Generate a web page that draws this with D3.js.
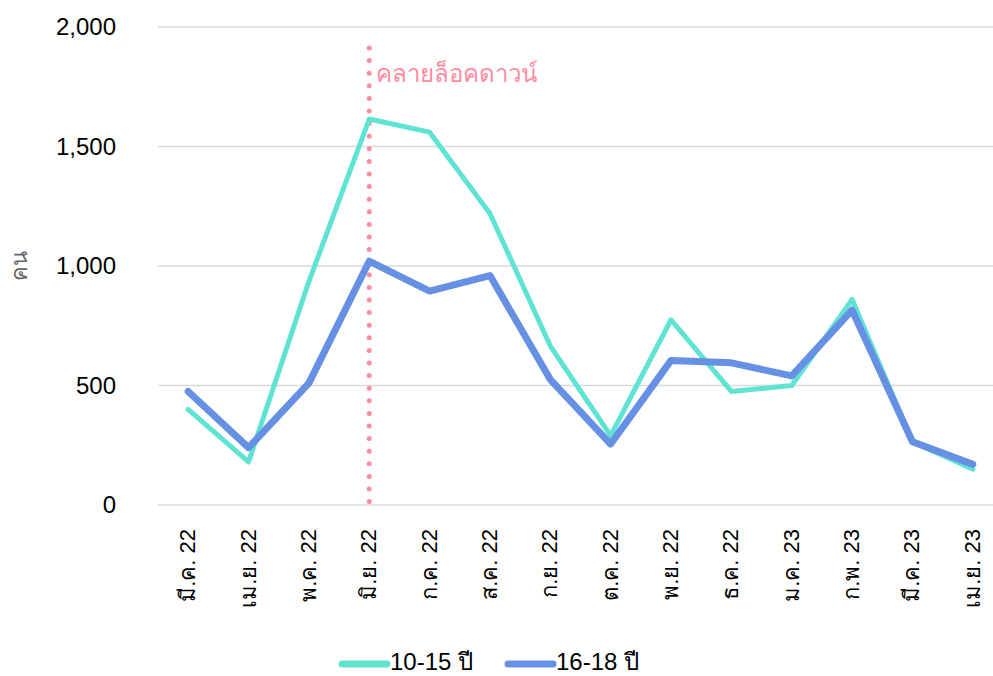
<!DOCTYPE html>
<html>
<head>
<meta charset="utf-8">
<script src="https://cdn.jsdelivr.net/npm/d3@7"></script>
<style>
  body { margin: 0; background: #fff; }
  svg { display: block; font-family: "Liberation Sans", Arial, Helvetica, sans-serif; }
</style>
</head>
<body>
<div id="chart"></div>
<script>
// data
var months = ["มี.ค. 22", "เม.ย. 22", "พ.ค. 22", "มิ.ย. 22", "ก.ค. 22", "ส.ค. 22", "ก.ย. 22",
              "ต.ค. 22", "พ.ย. 22", "ธ.ค. 22", "ม.ค. 23", "ก.พ. 23", "มี.ค. 23", "เม.ย. 23"];
var age10to15 = [400, 180, 935, 1615, 1560, 1220, 665, 290, 775, 475, 500, 860, 265, 150];
var age16to18 = [475, 240, 510, 1020, 895, 960, 525, 255, 605, 595, 540, 815, 265, 170];
var seriesNames = ["10-15 ปี", "16-18 ปี"];
var yTicks = [0, 500, 1000, 1500, 2000];
var lockdownMonth = "มิ.ย. 22";
var lockdownLabel = "คลายล็อคดาวน์";
var yLabel = "คน";

var colors = ["#5fe3d2", "#6690e4"];
var widths = [5, 7];

// chart
var w = 993, h = 676;
var svg = d3.select("#chart").append("svg")
  .attr("width", w)
  .attr("height", h);

var xScale = d3.scaleBand(months, [158, 1003]);
var yScale = d3.scaleLinear([0, 2000], [505, 27]);
var xMid = function(m) { return xScale(m) + xScale.bandwidth() / 2; };

// Gridlines + y labels
//-----------
svg.selectAll(".grid")
  .data(yTicks)
  .enter()
  .append("line")
  .attr("x1", 158)
  .attr("x2", w)
  .attr("y1", function(d) { return yScale(d); })
  .attr("y2", function(d) { return yScale(d); })
  .attr("stroke", "#d9d9d9")
  .attr("stroke-width", 1.5);

svg.selectAll(".ytick")
  .data(yTicks)
  .enter()
  .append("text")
  .text(function(d) { return d3.format(",")(d); })
  .attr("x", 116)
  .attr("y", function(d) { return yScale(d) + 8; })
  .attr("text-anchor", "end")
  .attr("font-size", "24px")
  .attr("fill", "#000");

svg.append("text")
  .text(yLabel)
  .attr("transform", "translate(27," + yScale(1000) + ") rotate(-90)")
  .attr("text-anchor", "middle")
  .attr("font-size", "22px")
  .attr("fill", "#666");

// X labels
//-----------
svg.selectAll(".xtick")
  .data(months)
  .enter()
  .append("text")
  .text(function(d) { return d; })
  .attr("transform", function(d) { return "translate(" + (xMid(d) + 7) + ",529) rotate(-90)"; })
  .attr("text-anchor", "end")
  .attr("font-size", "22px")
  .attr("fill", "#000");

// Lockdown marker
//-----------
var lx = xMid(lockdownMonth);
svg.append("line")
  .attr("x1", lx).attr("x2", lx)
  .attr("y1", 48).attr("y2", 502)
  .attr("stroke", "#ff8ca0")
  .attr("stroke-width", 5)
  .attr("stroke-linecap", "round")
  .attr("stroke-dasharray", "0 12.6");

svg.append("text")
  .text(lockdownLabel)
  .attr("x", lx + 7)
  .attr("y", 82)
  .attr("font-size", "24px")
  .attr("fill", "#ff8ca0");

// Lines
//-----------
var line = d3.line()
  .x(function(d, i) { return xMid(months[i]); })
  .y(function(d) { return yScale(d); });

[age10to15, age16to18].forEach(function(s, k) {
  svg.append("path")
    .datum(s)
    .attr("d", line)
    .attr("fill", "none")
    .attr("stroke", colors[k])
    .attr("stroke-width", widths[k])
    .attr("stroke-linejoin", "round")
    .attr("stroke-linecap", "round");
});

// Legend
//-----------
var legendX = [342, 508];
seriesNames.forEach(function(name, k) {
  svg.append("line")
    .attr("x1", legendX[k]).attr("x2", legendX[k] + 45)
    .attr("y1", 664).attr("y2", 664)
    .attr("stroke", colors[k])
    .attr("stroke-width", 7)
    .attr("stroke-linecap", "round");
  svg.append("text")
    .text(name)
    .attr("x", legendX[k] + 48)
    .attr("y", 670)
    .attr("font-size", "24px")
    .attr("fill", "#000");
});
</script>
</body>
</html>
